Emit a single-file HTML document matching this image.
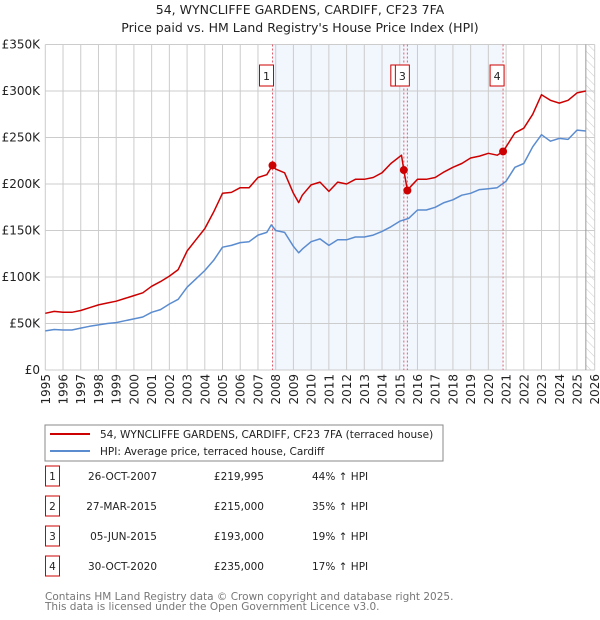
<!DOCTYPE html>
<html><head><meta charset="utf-8"><style>
body{margin:0;background:#fff;}
svg{display:block;font-family:"DejaVu Sans","Liberation Sans",sans-serif;}
</style></head><body>
<svg id="c" width="600" height="620" viewBox="0 0 600 620">
<defs><pattern id="hatch" width="6" height="6" patternUnits="userSpaceOnUse" patternTransform="rotate(-45)"><line x1="0" y1="0" x2="0" y2="6" stroke="#ccc" stroke-width="1"/></pattern></defs>
<text x="300" y="14" text-anchor="middle" font-size="12.5" fill="#222">54, WYNCLIFFE GARDENS, CARDIFF, CF23 7FA</text>
<text x="300" y="32" text-anchor="middle" font-size="12.5" fill="#222">Price paid vs. HM Land Registry's House Price Index (HPI)</text>
<g id="plot"></g>
<rect x="45" y="425" width="398" height="36" fill="#fff" stroke="#888"/>
<line x1="50" y1="434" x2="90" y2="434" stroke="#cc0000" stroke-width="2"/>
<text x="100" y="438" font-size="10.5" fill="#222">54, WYNCLIFFE GARDENS, CARDIFF, CF23 7FA (terraced house)</text>
<line x1="50" y1="451" x2="90" y2="451" stroke="#5b8ccf" stroke-width="2"/>
<text x="100" y="455" font-size="10.5" fill="#222">HPI: Average price, terraced house, Cardiff</text>
<g id="tbl" font-size="10.5" fill="#222"></g>
<text x="45" y="600" font-size="10.5" fill="#777">Contains HM Land Registry data © Crown copyright and database right 2025.</text>
<text x="45" y="610" font-size="10.5" fill="#777">This data is licensed under the Open Government Licence v3.0.</text>
</svg>
<script>
const yTicks=[0,50000,100000,150000,200000,250000,300000,350000];
const yTickLabels=["£0","£50K","£100K","£150K","£200K","£250K","£300K","£350K"];
const xYears=[1995,1996,1997,1998,1999,2000,2001,2002,2003,2004,2005,2006,2007,2008,2009,2010,2011,2012,2013,2014,2015,2016,2017,2018,2019,2020,2021,2022,2023,2024,2025,2026];
const hpiT=[1995,1995.5,1996,1996.5,1997,1997.5,1998,1998.5,1999,1999.5,2000,2000.5,2001,2001.5,2002,2002.5,2003,2003.5,2004,2004.5,2005,2005.5,2006,2006.5,2007,2007.5,2007.75,2008,2008.5,2009,2009.3,2009.5,2010,2010.5,2011,2011.5,2012,2012.5,2013,2013.5,2014,2014.5,2015,2015.5,2016,2016.5,2017,2017.5,2018,2018.5,2019,2019.5,2020,2020.5,2021,2021.5,2022,2022.5,2023,2023.5,2024,2024.5,2025,2025.5];
const hpiV=[42,43.5,43,43,45,47,48.5,50,51,53,55,57,62,65,71,76,89,98,107,118,132,134,137,138,145,148,156,150,148,133,126,130,138,141,134,140,140,143,143,145,149,154,160,163,172,172,175,180,183,188,190,194,195,196,203,218,222,240,253,246,249,248,258,257];
const priceT=[1995,1995.5,1996,1996.5,1997,1997.5,1998,1998.5,1999,1999.5,2000,2000.5,2001,2001.5,2002,2002.5,2003,2003.5,2004,2004.5,2005,2005.5,2006,2006.5,2007,2007.5,2007.82,2008,2008.5,2009,2009.3,2009.5,2010,2010.5,2011,2011.5,2012,2012.5,2013,2013.5,2014,2014.5,2015.1,2015.23,2015.43,2015.6,2016,2016.5,2017,2017.5,2018,2018.5,2019,2019.5,2020,2020.5,2020.83,2021,2021.5,2022,2022.5,2023,2023.5,2024,2024.5,2025,2025.5];
const priceV=[61,63,62,62,64,67,70,72,74,77,80,83,90,95,101,108,128,140,152,170,190,191,196,196,207,210,220,216,212,190,180,188,199,202,192,202,200,205,205,207,212,222,231,215,193,197,205,205,207,213,218,222,228,230,233,231,235,240,255,260,275,296,290,287,290,298,300];
const saleNums=["1","2","3","4"];
const saleT=[2007.82,2015.23,2015.43,2020.83];
const saleV=[219995,215000,193000,235000];
const saleDates=["26-OCT-2007","27-MAR-2015","05-JUN-2015","30-OCT-2020"];
const salePrices=["£219,995","£215,000","£193,000","£235,000"];
const saleHpi=["44% ↑ HPI","35% ↑ HPI","19% ↑ HPI","17% ↑ HPI"];

const NS="http://www.w3.org/2000/svg";
const X0=45.3,X1=594.7,Y0=370,Y1=44.5;
const xs=t=>X0+(t-1995)/(2026-1995)*(X1-X0);
const ys=v=>Y0-v/350000*(Y0-Y1);
const plot=document.getElementById('plot');
function mk(tag,a,p){const e=document.createElementNS(NS,tag);for(const k in a)e.setAttribute(k,a[k]);(p||plot).appendChild(e);return e;}
// shaded ownership region
let e=mk('rect',{x:xs(saleT[0]),y:Y1,width:xs(saleT[3])-xs(saleT[0]),height:Y0-Y1,fill:'#eef3fc',opacity:0.75});


// hatch future
e=mk('rect',{x:xs(2025.5),y:Y1,width:X1-xs(2025.5),height:Y0-Y1,fill:'url(#hatch)'});


// grid
yTicks.forEach((v,i)=>{
 let g=mk('line',{x1:X0,x2:X1,y1:ys(v),y2:ys(v),stroke:'#ccc','stroke-width':1});
 
 
 let t=mk('text',{x:40,y:ys(v)+4,'text-anchor':'end','font-size':12,fill:'#222'});
 t.textContent=yTickLabels[i];
 
 
});
xYears.forEach(yr=>{
 let g=mk('line',{x1:xs(yr),x2:xs(yr),y1:Y1,y2:Y0,stroke:'#ccc','stroke-width':1});
 
 
 let t=mk('text',{x:0,y:0,'text-anchor':'end','font-size':12,fill:'#222',transform:`translate(${xs(yr)+4.5},374) rotate(-90)`});
 t.textContent=yr;
 
 
});
e=mk('line',{x1:xs(2025.5),x2:xs(2025.5),y1:Y1,y2:Y0,stroke:'#999','stroke-width':1});


// sale lines
saleT.forEach((t,i)=>{
 let l=mk('line',{x1:xs(t),x2:xs(t),y1:Y1,y2:Y0,stroke:'#e06070','stroke-width':1,'stroke-dasharray':'2,2'});
 
 
});
// series
function path(T,V,col,name){
 const d=T.map((t,i)=>(i?'L':'M')+xs(t).toFixed(1)+','+ys(V[i]*1000).toFixed(1)).join('');
 const p=mk('path',{d:d,fill:'none',stroke:col,'stroke-width':1.5,'stroke-linejoin':'round'});
 
 
}
path(hpiT,hpiV,'#5b8ccf','hpi-line');
path(priceT,priceV,'#cc0000','price-line');
// sale points & labels
saleT.forEach((t,i)=>{
 let c=mk('circle',{cx:xs(t),cy:ys(saleV[i]),r:4,fill:'#cc0000'});
 
 
 const bx=xs(t)-(i==1?12:(i==2?11:12));
 let r=mk('rect',{x:bx-1,y:65,width:14,height:21,fill:'#fff',stroke:'#cc0000','stroke-width':1});
 
 
 let tx=mk('text',{x:bx+6,y:80,'text-anchor':'middle','font-size':11,fill:'#222'});
 tx.textContent=saleNums[i];
 
 
});
// table
const tbl=document.getElementById('tbl');
saleNums.forEach((n,i)=>{
 const y=483+i*30;
 let r=mk('rect',{x:45.5,y:y-17,width:14,height:20,fill:'none',stroke:'#cc0000'},tbl);
 
 
 const cells=[[52.5,n,'middle'],[157,saleDates[i],'end'],[264,salePrices[i],'end'],[312,saleHpi[i],'start']];
 cells.forEach((c,j)=>{
  let t=mk('text',{x:c[0],y:y-3,'text-anchor':c[2]},tbl);
  t.textContent=c[1];
  
  
 });
});
</script>
</body></html>
